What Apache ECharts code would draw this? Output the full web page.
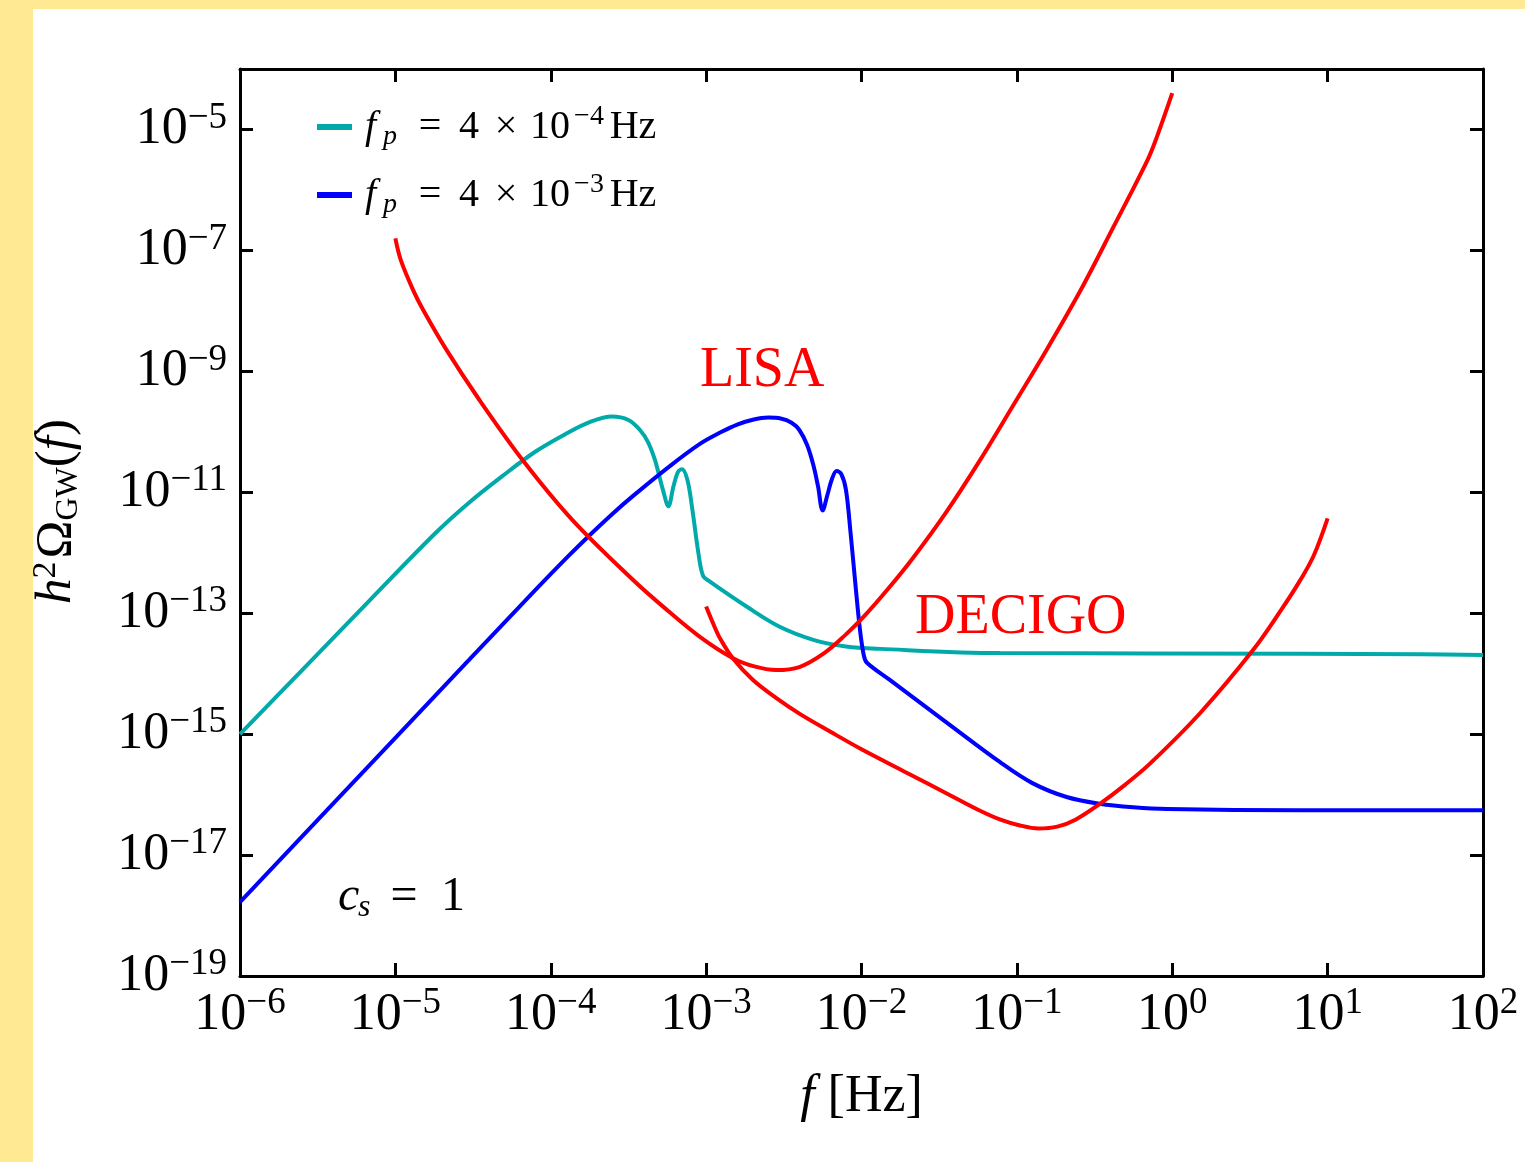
<!DOCTYPE html>
<html><head><meta charset="utf-8">
<script src="https://cdn.jsdelivr.net/npm/echarts@6/dist/echarts.min.js"></script>
<style>
html,body{margin:0;padding:0;width:1525px;height:1162px;background:#FFE993;overflow:hidden}
#chart{position:absolute;left:33px;top:9px;width:1492px;height:1153px;background:#ffffff}
</style></head><body><div id="chart"></div>
<script>
// Values stored as base-10 exponents: [log10 f (Hz), log10 h^2 Omega_GW]
const xRangeExp = [-6, 2];
const yRangeExp = [-19, -4];
const seriesNames = ['fp4e-4', 'fp4e-3', 'LISA', 'DECIGO'];
const legendExp = { 'fp4e-4': '−4', 'fp4e-3': '−3' };

const cyanLog = [[-6.00,-15.00],[-5.60,-13.94],[-5.17,-12.80],[-4.74,-11.67],[-4.53,-11.18],[-4.31,-10.73],[-4.10,-10.33],[-3.90,-10.03],[-3.75,-9.84],[-3.606,-9.747],[-3.50,-9.805],[-3.426,-9.97],[-3.374,-10.17],[-3.329,-10.47],[-3.278,-10.96],[-3.243,-11.23],[-3.21,-10.90],[-3.18,-10.66],[-3.155,-10.62],[-3.12,-10.80],[-3.09,-11.26],[-3.05,-12.00],[-3.02,-12.38],[-2.98,-12.47],[-2.74,-12.89],[-2.53,-13.22],[-2.31,-13.44],[-2.10,-13.55],[-1.88,-13.59],[-1.11,-13.66],[0.82,-13.67],[1.60,-13.68],[2.00,-13.69]];

const blueLog = [[-6.00,-17.78],[-5.00,-15.06],[-4.10,-12.62],[-3.90,-12.09],[-3.75,-11.71],[-3.60,-11.35],[-3.47,-11.06],[-3.25,-10.60],[-3.04,-10.20],[-2.90,-10.00],[-2.80,-9.88],[-2.70,-9.80],[-2.60,-9.765],[-2.52,-9.78],[-2.45,-9.85],[-2.40,-9.97],[-2.35,-10.22],[-2.31,-10.55],[-2.28,-10.90],[-2.25,-11.30],[-2.22,-11.05],[-2.19,-10.78],[-2.16,-10.65],[-2.13,-10.70],[-2.10,-10.96],[-2.07,-11.68],[-2.04,-12.50],[-2.01,-13.27],[-1.985,-13.70],[-1.965,-13.82],[-1.82,-14.10],[-1.43,-14.85],[-1.11,-15.46],[-0.90,-15.81],[-0.68,-16.04],[-0.47,-16.15],[-0.25,-16.21],[-0.03,-16.24],[0.82,-16.26],[2.00,-16.26]];

const lisaLog = [[-5.00,-6.80],[-4.965,-7.16],[-4.885,-7.66],[-4.82,-7.99],[-4.67,-8.65],[-4.46,-9.47],[-4.18,-10.47],[-3.86,-11.46],[-3.47,-12.45],[-3.25,-12.95],[-3.04,-13.39],[-2.83,-13.74],[-2.69,-13.88],[-2.55,-13.94],[-2.40,-13.89],[-2.24,-13.66],[-2.10,-13.35],[-1.99,-13.07],[-1.83,-12.60],[-1.67,-12.09],[-1.45,-11.31],[-1.24,-10.48],[-1.03,-9.59],[-0.81,-8.65],[-0.59,-7.66],[-0.38,-6.62],[-0.16,-5.51],[-0.10,-5.13],[0.00,-4.40]];

const decigoLog = [[-3.00,-12.89],[-2.95,-13.20],[-2.91,-13.42],[-2.83,-13.74],[-2.70,-14.10],[-2.55,-14.40],[-2.40,-14.66],[-2.20,-14.96],[-2.00,-15.25],[-1.70,-15.65],[-1.43,-16.01],[-1.25,-16.25],[-1.11,-16.41],[-0.98,-16.51],[-0.86,-16.56],[-0.74,-16.53],[-0.62,-16.41],[-0.47,-16.16],[-0.30,-15.83],[-0.14,-15.48],[0.18,-14.65],[0.52,-13.61],[0.70,-12.95],[0.82,-12.47],[0.91,-12.05],[1.00,-11.43]];

const colors = { cyan: '#00AAAA', blue: '#0000FF', red: '#FF0000' };
const FONT = '"Liberation Serif", "Times New Roman", serif';

function toData(arr) { return arr.map(p => [Math.pow(10, p[0]), Math.pow(10, p[1])]); }
function expLabel(v, hideTop) {
  const e = Math.round(Math.log10(v));
  if (hideTop && e === yRangeExp[1]) return '';
  const s = e < 0 ? '−' + (-e) : String(e);
  return '{b|10}{s|' + s + '}';
}
const tickRich = {
  b: { fontFamily: FONT, fontSize: 52, lineHeight: 60, color: '#000' },
  s: { fontFamily: FONT, fontSize: 37, lineHeight: 30, verticalAlign: 'top', color: '#000' }
};

const axisLineStyle = { show: true, onZero: false, lineStyle: { color: '#000', width: 3 } };
const tickStyle = { show: true, inside: true, length: 13, lineStyle: { color: '#000', width: 3 } };

const chart = echarts.init(document.getElementById('chart'), null, { renderer: 'canvas' });

const lineSeries = (name, data, color, z) => ({
  name, type: 'line', data: toData(data), showSymbol: false, smooth: 0.35,
  lineStyle: { color, width: 4 }, itemStyle: { color }, z, clip: true,
  emphasis: { disabled: true }
});

const legRich = {
  f: { fontFamily: FONT, fontStyle: 'italic', fontSize: 40, lineHeight: 48, width: 18, color: '#000' },
  p: { fontFamily: FONT, fontStyle: 'italic', fontSize: 28, lineHeight: 30, width: 20, verticalAlign: 'bottom', color: '#000' },
  eq: { fontFamily: FONT, fontSize: 40, lineHeight: 48, width: 54, align: 'center', color: '#000' },
  four: { fontFamily: FONT, fontSize: 40, lineHeight: 48, width: 24, align: 'center', color: '#000' },
  x: { fontFamily: FONT, fontSize: 40, lineHeight: 48, width: 50, align: 'center', color: '#000' },
  ten: { fontFamily: FONT, fontSize: 40, lineHeight: 48, width: 38, align: 'center', color: '#000' },
  sup: { fontFamily: FONT, fontSize: 28, lineHeight: 26, width: 40, align: 'center', verticalAlign: 'top', color: '#000' },
  hz: { fontFamily: FONT, fontSize: 40, lineHeight: 48, width: 48, align: 'center', color: '#000' }
};

chart.setOption({
  animation: false,
  backgroundColor: '#ffffff',
  grid: { left: 207, top: 60, right: 42, bottom: 186, containLabel: false, outerBoundsMode: 'none' },
  legend: {
    data: ['fp4e-4', 'fp4e-3'],
    orient: 'vertical', left: 279, top: 89, itemGap: 20,
    itemWidth: 35, itemHeight: 6, icon: 'rect',
    formatter: n => '{f|f}{p|p}{eq|=}{four|4}{x|×}{ten|10}{sup|' + legendExp[n] + '}{hz|Hz}',
    textStyle: { padding: [0, 0, 0, 8], rich: legRich }
  },
  xAxis: [{
    type: 'log', logBase: 10, min: Math.pow(10, xRangeExp[0]), max: Math.pow(10, xRangeExp[1]), interval: 1,
    position: 'bottom', axisLine: axisLineStyle, axisTick: tickStyle, splitLine: { show: false },
    minorTick: { show: false },
    axisLabel: { margin: 9, formatter: v => expLabel(v, false), rich: tickRich },
    name: '{i|f} [Hz]', nameLocation: 'middle', nameGap: 95,
    nameTextStyle: { rich: {
      i: { fontFamily: FONT, fontStyle: 'italic', fontSize: 52, color: '#000' }
    }, fontFamily: FONT, fontSize: 52, color: '#000' }
  }, {
    type: 'log', logBase: 10, min: Math.pow(10, xRangeExp[0]), max: Math.pow(10, xRangeExp[1]), interval: 1,
    position: 'top', axisLine: axisLineStyle, axisTick: tickStyle, splitLine: { show: false },
    axisLabel: { show: false }
  }],
  yAxis: [{
    type: 'log', logBase: 10, min: Math.pow(10, yRangeExp[0]), max: Math.pow(10, yRangeExp[1]), interval: 2,
    position: 'left', axisLine: axisLineStyle, axisTick: tickStyle, splitLine: { show: false },
    minorTick: { show: false },
    axisLabel: { margin: 13, formatter: v => expLabel(v, true), rich: tickRich },
    name: '{i|h}{sup|2}{om|Ω}{sub|GW}{n|(}{i|f}{n|)}', nameLocation: 'middle', nameGap: 155, nameRotate: 90,
    nameTextStyle: { padding: [0, 0, 0, 22], rich: {
      i: { fontFamily: FONT, fontStyle: 'italic', fontSize: 51, lineHeight: 56, color: '#000' },
      n: { fontFamily: FONT, fontSize: 51, lineHeight: 56, color: '#000' },
      om: { fontFamily: FONT, fontSize: 51, lineHeight: 56, padding: [0, 0, 0, 3], color: '#000' },
      sup: { fontFamily: FONT, fontSize: 34, lineHeight: 36, verticalAlign: 'top', color: '#000' },
      sub: { fontFamily: FONT, fontSize: 32, lineHeight: 26, verticalAlign: 'bottom', color: '#000' }
    } }
  }, {
    type: 'log', logBase: 10, min: Math.pow(10, yRangeExp[0]), max: Math.pow(10, yRangeExp[1]), interval: 2,
    position: 'right', axisLine: axisLineStyle, axisTick: tickStyle, splitLine: { show: false },
    axisLabel: { show: false }
  }],
  series: [
    lineSeries(seriesNames[0], cyanLog, colors.cyan, 2),
    lineSeries(seriesNames[1], blueLog, colors.blue, 3),
    lineSeries(seriesNames[2], lisaLog, colors.red, 4),
    lineSeries(seriesNames[3], decigoLog, colors.red, 4)
  ],
  graphic: [
    { type: 'text', left: 667, top: 334, style: { text: 'LISA', fill: colors.red, font: '56px ' + FONT } },
    { type: 'text', left: 882, top: 581, style: { text: 'DECIGO', fill: colors.red, font: '56px ' + FONT } },
    { type: 'text', left: 305, top: 864, style: {
      text: '{i|c}{sub|s}{eq|=}{n|1}',
      rich: {
        i: { fontFamily: FONT, fontStyle: 'italic', fontSize: 48, lineHeight: 54, width: 20, fill: '#000' },
        sub: { fontFamily: FONT, fontStyle: 'italic', fontSize: 32, lineHeight: 32, width: 17, verticalAlign: 'bottom', fill: '#000' },
        eq: { fontFamily: FONT, fontSize: 48, lineHeight: 54, width: 58, align: 'center', fill: '#000' },
        n: { fontFamily: FONT, fontSize: 48, lineHeight: 54, width: 40, align: 'center', fill: '#000' }
      }
    } }
  ]
});
</script></body></html>
